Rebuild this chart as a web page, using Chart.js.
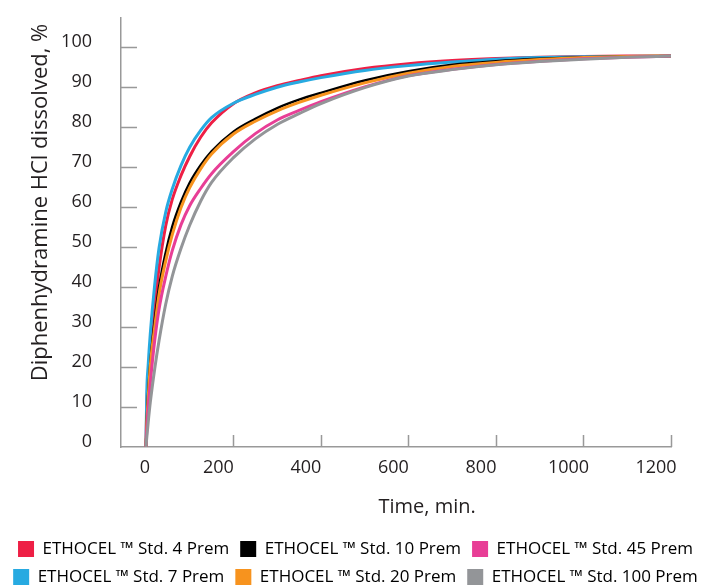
<!DOCTYPE html>
<html>
<head>
<meta charset="utf-8">
<script src="https://cdn.jsdelivr.net/npm/chart.js@4.4.0/dist/chart.umd.min.js"></script>
<style>
  html, body { margin: 0; padding: 0; background: #fff; }
</style>
</head>
<body>
<canvas id="chart" width="711" height="587"></canvas>
<script>
// 時間 (min)
const minutes = [0, 2, 5, 10, 20, 30, 45, 60, 80, 100, 125, 150, 200, 250, 300, 350, 400, 500, 600, 700, 800, 900, 1000, 1100, 1200];

// 溶出率 (%) 各グレード
const std4   = [0, 10.5, 17, 24, 35.4, 44.8, 55.2, 61.8, 67.8, 72.6, 77.4, 81, 85.8, 88.5, 90.3, 91.6, 92.8, 94.6, 95.8, 96.6, 97.1, 97.4, 97.6, 97.7, 97.7];
const std10  = [0, 7, 13.3, 21, 31.6, 40, 48.5, 55, 61.2, 66, 70.4, 73.9, 78.8, 82, 84.7, 86.8, 88.5, 91.6, 93.9, 95.5, 96.4, 97, 97.4, 97.6, 97.7];
const std45  = [0, 4.5, 9.5, 16, 26.6, 34.5, 42.5, 49, 55.5, 60.3, 64.6, 68.3, 73.8, 78.3, 81.7, 84.1, 86.3, 90, 92.8, 94.4, 95.6, 96.4, 97, 97.4, 97.7];
const std7   = [0, 14, 20.3, 28.4, 40.5, 49.8, 58.6, 64.4, 70.3, 74.9, 79.1, 82.3, 85.9, 88.1, 89.9, 91.2, 92.3, 94.1, 95.3, 96.2, 96.9, 97.3, 97.5, 97.6, 97.7];
const std20  = [0, 6, 12, 20.3, 29.9, 38.2, 46.4, 53, 59.8, 64.8, 69.5, 73.2, 78.2, 81.4, 84, 86.1, 87.9, 91, 93.4, 95.1, 96.1, 96.8, 97.3, 97.6, 97.7];
const std100 = [0, 2.5, 6, 11.2, 19.5, 26.6, 35.6, 42.6, 49.6, 55.4, 61.4, 66.1, 72.3, 77, 80.6, 83.3, 85.8, 89.8, 92.7, 94.3, 95.5, 96.3, 96.9, 97.4, 97.7];

// 凡例ラベル
const seriesNames = [
    'ETHOCEL \u2122 Std. 4 Prem',
    'ETHOCEL \u2122 Std. 10 Prem',
    'ETHOCEL \u2122 Std. 45 Prem',
    'ETHOCEL \u2122 Std. 7 Prem',
    'ETHOCEL \u2122 Std. 20 Prem',
    'ETHOCEL \u2122 Std. 100 Prem'
];
const seriesValues = [std4, std10, std45, std7, std20, std100];
const seriesColors = ['#ee1f45', '#000000', '#e83e96', '#27aae1', '#f7931e', '#939598'];
const seriesOrder = [5, 3, 1, 4, 2, 0]; // 小さいほど上に描く

// 目盛り
const yTicks = [0, 10, 20, 30, 40, 50, 60, 70, 80, 90, 100];
const xTicks = [0, 200, 400, 600, 800, 1000, 1200];
const xTickMarks = [200, 400, 600, 800, 1000, 1200];

const axisColor = '#999999';
const textColor = '#231f20';
const fontName = "'Open Sans'";

// 内向きの目盛り線
const innerTicks = {
    id: 'innerTicks',
    afterDraw(chart) {
        const ctx = chart.ctx;
        const area = chart.chartArea;
        const xs = chart.scales.x;
        const ys = chart.scales.y;
        ctx.save();
        ctx.strokeStyle = axisColor;
        ctx.lineWidth = 1.5;
        ctx.beginPath();
        yTicks.forEach(v => {
            if (v === 0) return;
            const py = Math.round(ys.getPixelForValue(v)) + 0.5;
            ctx.moveTo(area.left, py);
            ctx.lineTo(area.left + 16, py);
        });
        xTickMarks.forEach(v => {
            const px = Math.round(xs.getPixelForValue(v)) + 0.5;
            ctx.moveTo(px, area.bottom);
            ctx.lineTo(px, area.bottom - 12);
        });
        ctx.stroke();
        ctx.restore();
    }
};

// 軸の余白をなくす
function noPad(s) {
    s.paddingTop = 0;
    s.paddingBottom = 0;
    s.paddingLeft = 0;
    s.paddingRight = 0;
}

let datasets = seriesNames.map((name, i) => ({
    label: name,
    data: minutes.map((t, j) => ({ x: t, y: seriesValues[i][j] })),
    borderColor: seriesColors[i],
    backgroundColor: seriesColors[i],
    borderWidth: i === 1 ? 2.5 : 3,
    pointRadius: 0,
    cubicInterpolationMode: 'monotone',
    order: seriesOrder[i],
    fill: false
}));

let ctx = document.getElementById('chart');

let chart = new Chart(ctx, {
    type: 'line',
    data: { datasets: datasets },
    plugins: [innerTicks],
    options: {
        responsive: false,
        animation: false,
        devicePixelRatio: 1,
        layout: { padding: { top: 18, right: 0, left: 0, bottom: -8.5 } },
        plugins: {
            tooltip: { enabled: false },
            legend: {
                position: 'bottom',
                labels: {
                    boxWidth: 16,
                    boxHeight: 16,
                    padding: 11,
                    color: textColor,
                    font: { family: fontName, size: 17 },
                    generateLabels: (c) => c.data.datasets.map((d, i) => ({
                        text: d.label,
                        fillStyle: d.borderColor,
                        strokeStyle: d.borderColor,
                        lineWidth: 0,
                        hidden: false,
                        datasetIndex: i
                    }))
                }
            }
        },
        scales: {
            x: {
                type: 'linear',
                min: -57,
                max: 1200,
                afterBuildTicks: s => { s.ticks = xTicks.map(v => ({ value: v })); },
                afterFit: s => { s.height = 82.5; noPad(s); },
                grid: { display: false, drawTicks: false },
                border: { display: true, color: axisColor, width: 1.5 },
                ticks: {
                    color: textColor,
                    font: { family: fontName, size: 18 },
                    padding: 10,
                    labelOffset: -15,
                    maxRotation: 0,
                    autoSkip: false,
                    callback: v => v === 0 ? '\u00a0\u00a0\u00a0\u00a0\u00a0\u00a00' : String(v)
                },
                title: {
                    display: true,
                    text: '\u00a0'.repeat(12) + 'Time, min.',
                    color: textColor,
                    font: { family: fontName, size: 20 },
                    padding: { top: 0, bottom: 10.5 }
                }
            },
            y: {
                min: 0,
                max: 107.2,
                afterBuildTicks: s => { s.ticks = yTicks.map(v => ({ value: v })); },
                afterFit: s => { s.width = 121; noPad(s); },
                grid: { display: false, drawTicks: true, tickLength: 29 },
                border: { display: true, color: axisColor, width: 1.5 },
                ticks: {
                    color: textColor,
                    font: { family: fontName, size: 18 },
                    padding: 0,
                    labelOffset: -5
                },
                title: {
                    display: true,
                    text: 'Diphenhydramine HCl dissolved, %\u00a0',
                    align: 'end',
                    color: textColor,
                    font: { family: fontName, size: 22 },
                    padding: { top: 28, bottom: 0 }
                }
            },
            // 右側の余白用 (何も描かない)
            yRight: {
                position: 'right',
                display: true,
                afterFit: s => { s.width = 40; noPad(s); },
                grid: { display: false, drawTicks: false },
                border: { display: false },
                ticks: { display: false }
            }
        }
    }
});
</script>
</body>
</html>
